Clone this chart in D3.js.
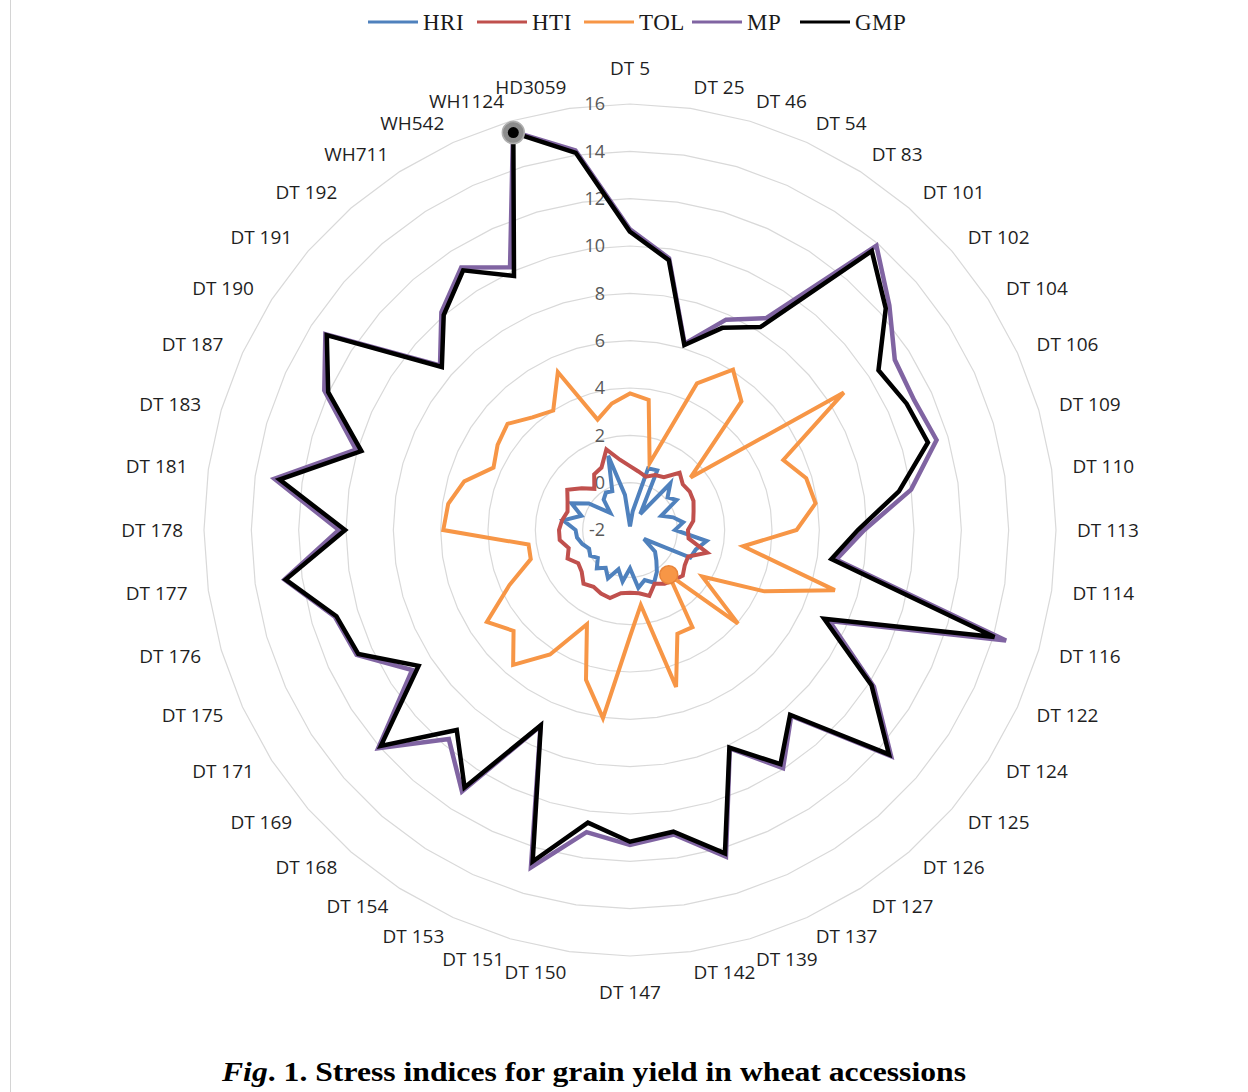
<!DOCTYPE html>
<html>
<head>
<meta charset="utf-8">
<script src="https://cdn.jsdelivr.net/npm/d3@7"></script>
<style>
  body { margin: 0; background: #fff; }
  svg { display: block; }
</style>
</head>
<body>
<svg id="chart" width="1248" height="1092"></svg>
<script>
// accessions, clockwise from the top
let categories = ['DT 5', 'DT 25', 'DT 46', 'DT 54', 'DT 83', 'DT 101', 'DT 102', 'DT 104', 'DT 106',
  'DT 109', 'DT 110', 'DT 113', 'DT 114', 'DT 116', 'DT 122', 'DT 124', 'DT 125', 'DT 126', 'DT 127',
  'DT 137', 'DT 139', 'DT 142', 'DT 147', 'DT 150', 'DT 151', 'DT 153', 'DT 154', 'DT 168', 'DT 169',
  'DT 171', 'DT 175', 'DT 176', 'DT 177', 'DT 178', 'DT 181', 'DT 183', 'DT 187', 'DT 190', 'DT 191',
  'DT 192', 'WH711', 'WH542', 'WH1124', 'HD3059'];

let hri = [-1.85, -1.2, 0.72, 0.77, -1.2, 0.6, 0.1, 0.34, -0.55, -0.1, 0.27, -0.1, 1.27, 0.9,
  0.8, -1.3, -0.6, -0.3, 0.1, 0.45, 0.2, 0.47, -0.38, 0.2, -0.27, 0.24, -0.1, 0.14, -0.2,
  0.0, -0.1, 0.1, 0.26, 0.3, 0.85, 0.14, 0.72, 0.07, -0.9, -0.3, -0.12, -0.2, 1.27, -0.5];

let hti = [0.7, 0.5, 0.35, 0.55, 0.65, 1.2, 0.95, 1.0, 0.95, 0.8, 0.7, 0.45, 0.5, 1.4,
  0.7, 0.75, 0.95, 0.8, 0.7, 0.5, 0.9, 0.7, 0.65, 0.7, 1.0, 0.95, 0.85, 1.0, 0.7,
  0.6, 0.9, 0.7, 1.0, 1.0, 0.9, 0.75, 0.9, 1.15, 0.7, 0.3, 0.8, 0.9, 1.55, 1.0];

let tol = [3.77, 3.55, 0.94, 4.81, 6.05, 5.19, 1.39, 8.74, 5.12, 5.76, 5.92, 5.04, 2.83, 7.02,
  4.24, 1.63, 4.04, 0.5, 2.88, 2.82, 4.91, 1.2, 2.5, 6.03, 4.6, 2.38, 4.25, 5.54, 4.51,
  5.19, 3.6, 2.37, 2.33, 5.89, 5.76, 5.3, 4.34, 4.65, 4.85, 4.3, 4.0, 5.34, 2.86, 3.4];

let mp = [10.7, 9.6, 6.2, 7.77, 8.64, 13.9, 12.5, 11.3, 11.2, 11.5, 10.0, 7.9, 6.8, 14.56,
  7.27, 10.25, 12.6, 8.4, 9.96, 8.15, 12.39, 11.0, 11.31, 10.9, 12.86, 7.1, 11.13, 9.69, 12.08,
  8.94, 10.7, 11.0, 12.75, 10.3, 13.18, 10.07, 12.2, 13.3, 8.62, 10.17, 11.19, 10.2, 15.55, 14.2];

let gmp = [10.6, 9.52, 6.15, 7.39, 8.19, 13.6, 12.3, 10.48, 10.85, 11.12, 9.48, 7.63, 6.6, 14.05,
  7.02, 10.13, 12.48, 8.33, 9.76, 8.11, 12.24, 10.88, 11.17, 10.49, 12.6, 7.07, 10.93, 9.18, 11.93,
  8.62, 10.62, 10.93, 12.7, 10.04, 12.96, 9.83, 12.02, 13.23, 8.52, 10.02, 11.04, 9.8, 15.5, 14.1];

let radial_ticks = [-2, 0, 2, 4, 6, 8, 10, 12, 14, 16];

let series_names = ['HRI', 'HTI', 'TOL', 'MP', 'GMP'];
let series_values = [hri, hti, tol, mp, gmp];
let series_colors = ['#4f81bd', '#c0504d', '#f79646', '#8064a2', '#000000'];

// highlighted points seen in the figure: [series index, category index]
let highlighted = [[4, 42], [2, 17]];

let cx = 630, cy = 530;
let outer_r = 426;
let label_r = 447;

let svg = d3.select('#chart');

let r = d3.scaleLinear()
  .domain([-2, 16])
  .range([0, outer_r]);

let angle = d3.scaleLinear()
  .domain([0, categories.length])
  .range([0, 2 * Math.PI]);

let plot = svg.append('g')
  .attr('transform', `translate(${cx}, ${cy})`);

// left page border
svg.append('line')
  .attr('x1', 10.5).attr('x2', 10.5)
  .attr('y1', 0).attr('y2', 1092)
  .style('stroke', '#d4d4d4');

// polygon grid
let grid_line = d3.lineRadial()
  .angle((d, i) => angle(i))
  .radius(d => r(d))
  .curve(d3.curveLinearClosed);

plot.selectAll('.grid')
  .data(radial_ticks.filter(t => t > -2))
  .enter().append('path')
  .attr('class', 'grid')
  .attr('d', t => grid_line(categories.map(() => t)))
  .attr('fill', 'none')
  .style('stroke', '#d9d9d9')
  .attr('stroke-width', 1.2);

// value labels along the vertical axis
plot.selectAll('.tick-label')
  .data(radial_ticks)
  .enter().append('text')
  .attr('class', 'tick-label')
  .attr('x', -25)
  .attr('y', t => -r(t))
  .attr('dy', '0.35em')
  .style('text-anchor', 'end')
  .style('font-family', '"Open Sans", sans-serif')
  .style('font-size', '18px')
  .style('fill', '#595959')
  .text(t => t);

// category labels
plot.selectAll('.cat-label')
  .data(categories)
  .enter().append('text')
  .attr('class', 'cat-label')
  .attr('x', (d, i) => label_r * Math.sin(angle(i)))
  .attr('y', (d, i) => {
    let s = Math.sin(angle(i)), c = Math.cos(angle(i));
    let y = -label_r * c;
    if (Math.abs(s) < 0.01) y -= c * 15;
    return y;
  })
  .attr('dy', '0.35em')
  .style('text-anchor', (d, i) => {
    let s = Math.sin(angle(i));
    return Math.abs(s) < 0.01 ? 'middle' : (s > 0 ? 'start' : 'end');
  })
  .style('font-family', '"Open Sans", sans-serif')
  .style('font-size', '19px')
  .style('fill', '#1f1f1f')
  .text(d => d);

// series
let series_line = d3.lineRadial()
  .angle((d, i) => angle(i))
  .radius(d => r(d))
  .curve(d3.curveLinearClosed);

plot.selectAll('.series')
  .data(series_values)
  .enter().append('path')
  .attr('class', 'series')
  .attr('d', d => series_line(d))
  .attr('fill', 'none')
  .style('stroke', (d, i) => series_colors[i])
  .attr('stroke-width', (d, i) => i >= 3 ? 4.5 : 4)
  .attr('stroke-linejoin', 'miter');

// highlighted markers
let px = (s, k) => r(series_values[s][k]) * Math.sin(angle(k));
let py = (s, k) => -r(series_values[s][k]) * Math.cos(angle(k));

plot.selectAll('.hl-outer')
  .data(highlighted)
  .enter().append('circle')
  .attr('class', 'hl-outer')
  .attr('cx', d => px(d[0], d[1]))
  .attr('cy', d => py(d[0], d[1]))
  .attr('r', d => d[0] === 4 ? 11 : 9)
  .attr('fill', d => d[0] === 4 ? '#8c8c8c' : '#f79646')
  .style('stroke', d => d[0] === 4 ? '#b0b0b0' : '#e8843a')
  .attr('stroke-width', 1.5);

plot.selectAll('.hl-inner')
  .data(highlighted.filter(d => d[0] === 4))
  .enter().append('circle')
  .attr('class', 'hl-inner')
  .attr('cx', d => px(d[0], d[1]))
  .attr('cy', d => py(d[0], d[1]))
  .attr('r', 5.5)
  .attr('fill', '#000');

// legend
let legend_x = [368, 477, 584, 692, 800];
let legend = svg.selectAll('.legend-item')
  .data(series_names)
  .enter().append('g')
  .attr('class', 'legend-item')
  .attr('transform', (d, i) => `translate(${legend_x[i]}, 22)`);

legend.append('line')
  .attr('x1', 0).attr('x2', 50)
  .attr('y1', 0).attr('y2', 0)
  .style('stroke', (d, i) => series_colors[i])
  .attr('stroke-width', 3);

legend.append('text')
  .attr('x', 55)
  .attr('dy', '0.35em')
  .style('font-family', '"Liberation Serif", serif')
  .style('font-size', '23px')
  .style('letter-spacing', '0.5px')
  .style('fill', '#1a1a1a')
  .text(d => d);

// caption
let caption = svg.append('text')
  .attr('x', 222)
  .attr('y', 1081)
  .attr('textLength', 744)
  .attr('lengthAdjust', 'spacingAndGlyphs')
  .style('font-family', '"Liberation Serif", serif')
  .style('font-size', '27px')
  .style('font-weight', 'bold')
  .style('fill', '#000');

caption.append('tspan').style('font-style', 'italic').text('Fig');
caption.append('tspan').text('. 1. Stress indices for grain yield in wheat accessions');
</script>
</body>
</html>
